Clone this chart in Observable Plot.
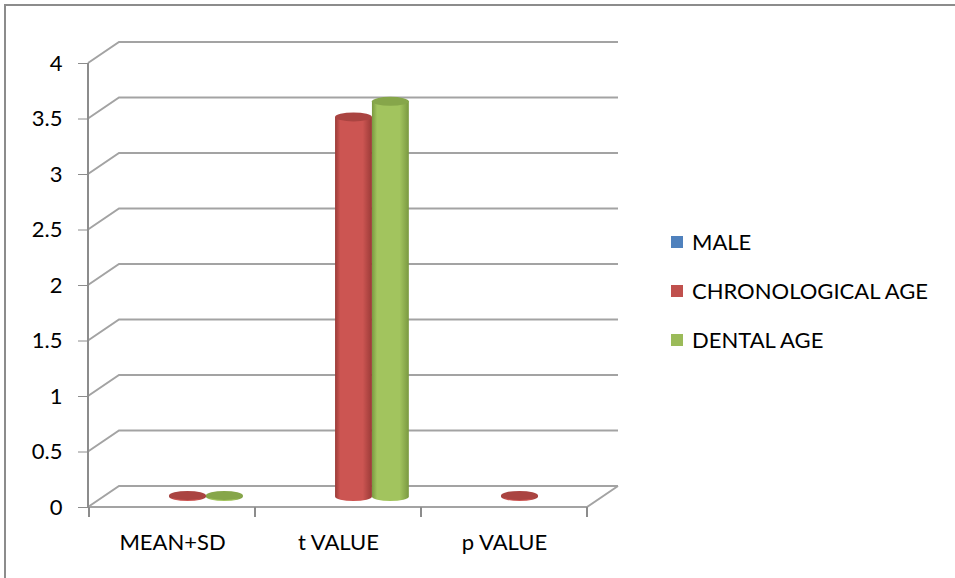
<!DOCTYPE html>
<html><head><meta charset="utf-8">
<script src="https://cdn.jsdelivr.net/npm/d3@7"></script>
<script src="https://cdn.jsdelivr.net/npm/@observablehq/plot@0.6"></script>
<style>
body{margin:0;background:#fff;}
#wrap{position:relative;width:955px;height:578px;overflow:hidden;font-family:Lato,sans-serif;color:#000;}
#bl{position:absolute;left:4px;top:4px;width:2px;height:574px;background:#8c8c8c}
#bt{position:absolute;left:4px;top:4px;width:951px;height:2px;background:#8c8c8c}
#chart{position:absolute;left:0;top:0}
#legend{position:absolute;left:671px;top:217px;font-size:22px;line-height:49px}
#legend .it{display:flex;align-items:center;white-space:nowrap}
#legend .sw{width:12px;height:12px;margin-right:9px;flex:none}
</style></head>
<body>
<div id="wrap"><div id="bl"></div><div id="bt"></div><div id="chart"></div><div id="legend"></div></div>
<script>
// ---- data ----
const categories = ["MEAN+SD", "t VALUE", "p VALUE"];
const seriesNames = ["MALE", "CHRONOLOGICAL AGE", "DENTAL AGE"];
const maleValues = [null, null, null];
const chronologicalValues = [0.01, 3.42, 0.01];
const dentalValues = [0.01, 3.56, null];
const yTicks = [0, 0.5, 1, 1.5, 2, 2.5, 3, 3.5, 4];
const seriesColors = ["#4F81BD", "#C0504D", "#9BBB59"];
const seriesDark = ["#385D8A", "#9A3A37", "#7A9940"];
const seriesBody = ["#5A8BC6", "#CC5552", "#A2C45E"];
const seriesTop = ["#4470A8", "#AA4441", "#86A64A"];

const valuesBySeries = [maleValues, chronologicalValues, dentalValues];
const rows = [];
seriesNames.forEach((s, si) => categories.forEach((c, ci) => {
  const v = valuesBySeries[si][ci];
  if (v != null) rows.push({category: c, series: s, si, value: v});
}));

// 3D projection (style)
const DX = 31, DY = -21, GAP = 1.5, GRID = "#a3a3a3";

function frame3d(index, {x, y}, values, dims) {
  const L = dims.marginLeft, R = dims.width - dims.marginRight, B = dims.height - dims.marginBottom;
  const g = d3.create("svg:g").attr("fill", "none").attr("stroke", GRID).attr("stroke-width", 2);
  for (const t of yTicks) {
    const py = y(t);
    g.append("path").attr("d", `M${L},${py}L${L + DX},${py + DY}H${R + DX}`);
  }
  g.append("path").attr("d", `M${L},${y(0)}H${R}L${R + DX},${y(0) + DY}`);
  g.append("path").attr("d", `M${L},${y(yTicks[yTicks.length - 1])}V${y(0)}`).attr("stroke", "#8c8c8c");
  const edges = categories.map(c => x(c)).concat([x(categories[categories.length - 1]) + x.bandwidth()]);
  for (const e of edges) g.append("path").attr("d", `M${e},${B}v10`).attr("stroke", "#8c8c8c");
  return g.node();
}

function cylinders(index, {x, y}) {
  const g = d3.create("svg:g");
  const defs = g.append("defs");
  seriesNames.forEach((s, si) => {
    const lg = defs.append("linearGradient").attr("id", "cyl" + si).attr("x1", 0).attr("x2", 1).attr("y1", 0).attr("y2", 0);
    lg.append("stop").attr("offset", "0%").attr("stop-color", seriesDark[si]);
    lg.append("stop").attr("offset", "14%").attr("stop-color", seriesBody[si]);
    lg.append("stop").attr("offset", "75%").attr("stop-color", seriesBody[si]);
    lg.append("stop").attr("offset", "100%").attr("stop-color", seriesDark[si]);
  });
  const bw = x.bandwidth();
  const n = seriesNames.length;
  const sw = bw / (n + GAP);
  for (const d of rows) {
    const cx = x(d.category) + bw / 2 + (d.si - (n - 1) / 2) * sw + DX / 2;
    const rx = sw / 2, ry = 4.5;
    const y0 = y(0) + DY / 2, y1 = y(d.value) + DY / 2;
    g.append("path")
      .attr("d", `M${cx - rx},${y1}L${cx - rx},${y0}A${rx},${ry} 0 0 0 ${cx + rx},${y0}L${cx + rx},${y1}Z`)
      .attr("fill", `url(#cyl${d.si})`);
    g.append("ellipse").attr("cx", cx).attr("cy", y1).attr("rx", rx).attr("ry", ry)
      .attr("fill", seriesTop[d.si]);
  }
  return g.node();
}

const chart = Plot.plot({
  width: 955, height: 578,
  marginLeft: 88, marginRight: 368, marginTop: 63, marginBottom: 71,
  style: {fontFamily: "Lato, sans-serif", fontSize: "22px", background: "transparent", color: "#000", overflow: "visible"},
  x: {type: "band", domain: categories, padding: 0},
  y: {domain: [0, 4]},
  marks: [
    frame3d,
    Plot.axisY({ticks: yTicks, tickSize: 10, tickPadding: 16, stroke: "#8c8c8c", fill: "#000", label: null, tickFormat: d => String(d)}),
    Plot.axisX({tickSize: 0, tickPadding: 27, fill: "#000", label: null}),
    cylinders
  ]
});
document.getElementById("chart").appendChild(chart);

const legend = d3.select("#legend");
seriesNames.forEach((s, i) => {
  const it = legend.append("div").attr("class", "it");
  it.append("div").attr("class", "sw").style("background", seriesColors[i]);
  it.append("span").text(s);
});
</script>
</body></html>
